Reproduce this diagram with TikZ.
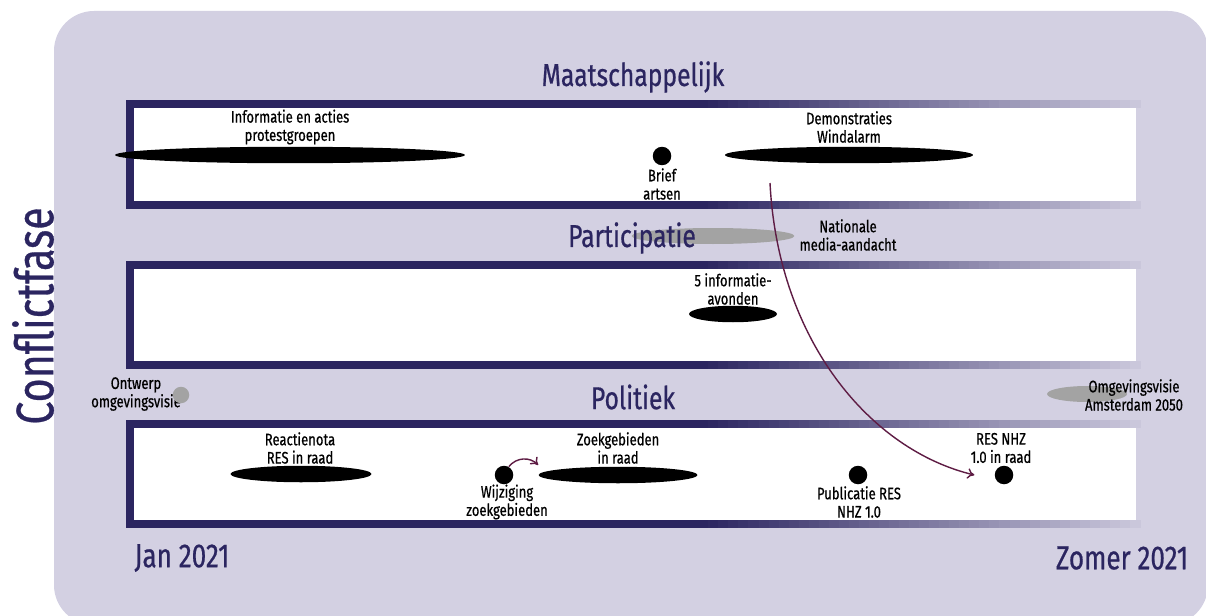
\documentclass[tikz,border=0pt]{standalone}
\usepackage{fontspec}
\setmainfont[FakeStretch=0.78, FakeBold=0.6]{Fira Sans}
\usetikzlibrary{shapes.geometric,arrows.meta}

\definecolor{bgpurple}{HTML}{D3D0E2}
\definecolor{bandnavy}{HTML}{2B2560}
\definecolor{wine}{HTML}{5E1C44}
\definecolor{greyblob}{HTML}{A3A3A3}

\begin{document}
\begin{tikzpicture}[x=0.02cm, y=-0.02cm,
    eventlabel/.style={align=center, font=\fontsize{9.5}{10.4}\selectfont, inner sep=0pt},
    phasetitle/.style={text=bandnavy, font=\fontsize{18}{20}\selectfont, inner sep=0pt},
    datelabel/.style={text=bandnavy, font=\fontsize{19}{21}\selectfont, inner sep=0pt},
    blob/.style={ellipse, fill=black, inner sep=0pt, minimum height=0.33cm},
    greyblob/.style={ellipse, fill=greyblob, inner sep=0pt, minimum height=0.32cm},
    eventdot/.style={circle, fill=black, inner sep=0pt, minimum size=0.37cm},
    link/.style={wine, thick, -{To[length=4pt,width=6pt]}}]
                \useasboundingbox (0,0) rectangle (1206,615);
                % background
                \fill[bgpurple, rounded corners=0.8cm] (54,11) rectangle (1208,625);
                % white bands
                \fill[white] (134,108) rectangle (1136,201);
                \fill[white] (134,269) rectangle (1136,361);
                \fill[white] (134,428) rectangle (1136,520);
                % band edges, fading out to the right
                \foreach \i in {0,...,100} {
                  \pgfmathsetmacro{\mix}{min(100,100-(\i*10.04-574)*0.22)}
                  \foreach \y in {100,201,261,361,420,520}
                    \fill[bandnavy!\mix!bgpurple] (126+\i*10.04,\y) rectangle (136.6+\i*10.04,\y+8);
                }
                \fill[bandnavy] (126,100) rectangle (134,209);
                \fill[bandnavy] (126,261) rectangle (134,369);
                \fill[bandnavy] (126,420) rectangle (134,528);
                % axis labels
                \node[text=bandnavy, rotate=90, font=\fontsize{30}{32}\selectfont, inner sep=0pt] (conflict) at (33,316) {Conflictfase};
                \node[datelabel] (jan) at (182,558) {Jan 2021};
                \node[datelabel] (zomer) at (1122,558) {Zomer 2021};
                % maatschappelijk
                \node[phasetitle] (maat) at (633,77) {Maatschappelijk};
                \node[blob, minimum width=7cm] (infoblob) at (290,155) {};
                \node[eventlabel] (infolabel) at (290,127) {Informatie en acties\\protestgroepen};
                \node[eventdot] (briefdot) at (662,156) {};
                \node[eventlabel] (brieflabel) at (662,184) {Brief\\artsen};
                \node[blob, minimum width=4.96cm] (demoblob) at (849,155) {};
                \node[eventlabel] (demolabel) at (849,127) {Demonstraties\\Windalarm};
                % participatie
                \node[greyblob, minimum width=3.26cm] (mediablob) at (713,236) {};
                \node[phasetitle] (part) at (632,238) {Participatie};
                \node[eventlabel] (medialabel) at (848,235) {Nationale\\media-aandacht};
                \node[eventlabel] (avondlabel) at (733,289) {5 informatie-\\avonden};
                \node[blob, minimum width=1.76cm] (avondblob) at (733,314) {};
                % politiek
                \node[phasetitle] (pol) at (633,397) {Politiek};
                \node[eventlabel] (ontwerplabel) at (136,394) {Ontwerp\\omgevingsvisie};
                \node[circle, fill=greyblob, inner sep=0pt, minimum size=0.33cm] (ontwerpdot) at (181,395) {};
                \node[greyblob, minimum width=1.6cm] (amsblob) at (1087,394) {};
                \node[eventlabel] (amslabel) at (1134,395) {Omgevingsvisie\\Amsterdam 2050};
                \node[eventlabel] (reactielabel) at (300,448) {Reactienota\\RES in raad};
                \node[blob, minimum width=2.82cm] (reactieblob) at (301,474) {};
                \node[eventdot] (wijzdot) at (504,475) {};
                \node[eventlabel] (wijzlabel) at (507,502) {Wijziging\\zoekgebieden};
                \node[eventlabel] (zoeklabel) at (618,448) {Zoekgebieden\\in raad};
                \node[blob, minimum width=3.18cm] (zoekblob) at (618,475) {};
                \node[eventdot] (pubdot) at (858,475) {};
                \node[eventlabel] (publabel) at (859,502) {Publicatie RES\\NHZ 1.0};
                \node[eventdot] (resdot) at (1004,475) {};
                \node[eventlabel] (reslabel) at (1001,448) {RES NHZ\\1.0 in raad};
                % links
                \coordinate (demostart) at (770,183);
                \draw[link] (demostart) .. controls (778,340) and (870,450) .. ([xshift=-0.4cm]resdot.west);
                \draw[link] (wijzdot.60) .. controls +(8,-10) and +(-8,-8) .. ([yshift=0.2cm]zoekblob.west);
              \end{tikzpicture}
\end{document}
